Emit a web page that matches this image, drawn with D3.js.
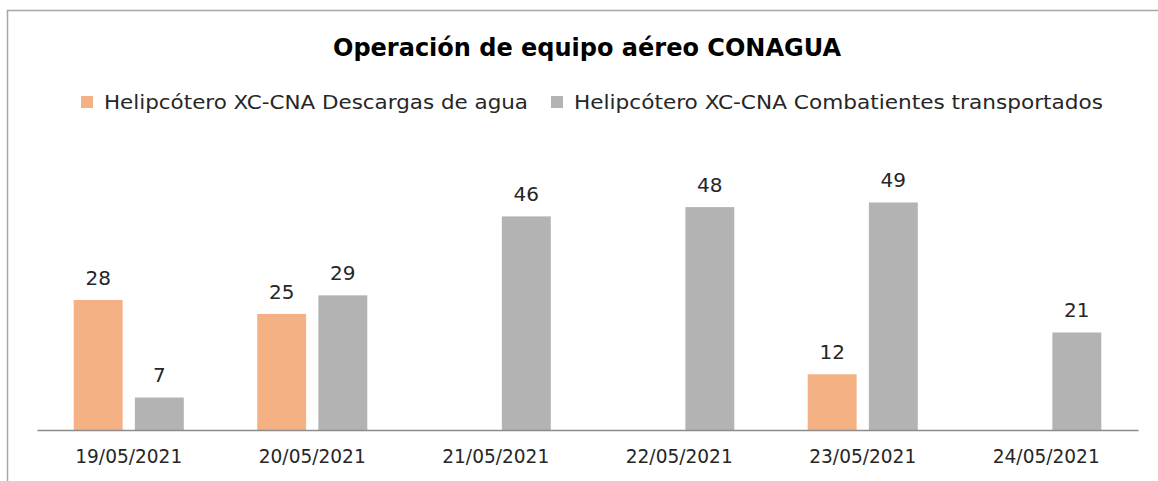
<!DOCTYPE html>
<html><head><meta charset="utf-8">
<script src="https://cdn.jsdelivr.net/npm/d3@7"></script>
<style>
body{margin:0;background:#fff;}
text{font-family:"DejaVu Sans",sans-serif;fill:#262626;}
</style></head>
<body><svg id="c" width="1158" height="481"></svg>
<script>
const categories=["19/05/2021","20/05/2021","21/05/2021","22/05/2021","23/05/2021","24/05/2021"];
const seriesNames=["Helipcótero XC-CNA Descargas de agua","Helipcótero XC-CNA Combatientes transportados"];
const descargas=[28,25,null,null,12,null];
const combatientes=[7,29,46,48,49,21];
const colors=["#F4B183","#B3B3B3"];

const svg=d3.select("#c");
svg.append("rect").attr("x",7.5).attr("y",10.5).attr("width",1200).attr("height",600)
  .attr("fill","#fff").attr("stroke","#a6a6a6").attr("stroke-width",1.5);

const x0=d3.scaleBand().domain(categories).range([37,1138]).paddingInner(0.4).paddingOuter(0.2);
const x1=d3.scaleBand().domain([0,1]).range([0,x0.bandwidth()]).paddingInner(0.2);
const y=d3.scaleLinear().domain([0,60]).range([430,151.4]);

svg.append("text").attr("x",587).attr("y",56).attr("text-anchor","middle")
  .style("font-size","24px").style("font-weight","bold").style("fill","#000").text("Operación de equipo aéreo CONAGUA");

const data=[descargas,combatientes];
data.forEach((vals,si)=>{
  const g=svg.append("g");
  categories.forEach((c,i)=>{
    const v=vals[i];
    if(v==null) return;
    const bx=x0(c)+x1(si);
    g.append("rect").attr("x",bx).attr("y",y(v)).attr("width",x1.bandwidth()).attr("height",y(0)-y(v)).attr("fill",colors[si]);
    g.append("text").attr("x",bx+x1.bandwidth()/2).attr("y",y(v)-15).attr("text-anchor","middle")
      .style("font-size","20px").text(v);
  });
});

const ax=svg.append("g").attr("transform","translate(0,430)").call(d3.axisBottom(x0).tickSize(0).tickPadding(19));
ax.select(".domain").attr("stroke","#8c8c8c").attr("stroke-width",1.5);
ax.selectAll("text").style("font-size","20px").style("font-family","DejaVu Sans").attr("fill","#262626")
  .attr("textLength",107).attr("lengthAdjust","spacingAndGlyphs");

// legend
const lx=[81,551];
const lw=[424,529];
seriesNames.forEach((n,i)=>{
  svg.append("rect").attr("x",lx[i]).attr("y",96).attr("width",12).attr("height",12).attr("fill",colors[i]);
  svg.append("text").attr("x",lx[i]+23).attr("y",109).style("font-size","20px")
    .attr("textLength",lw[i]).attr("lengthAdjust","spacingAndGlyphs").text(n);
});
</script></body></html>
